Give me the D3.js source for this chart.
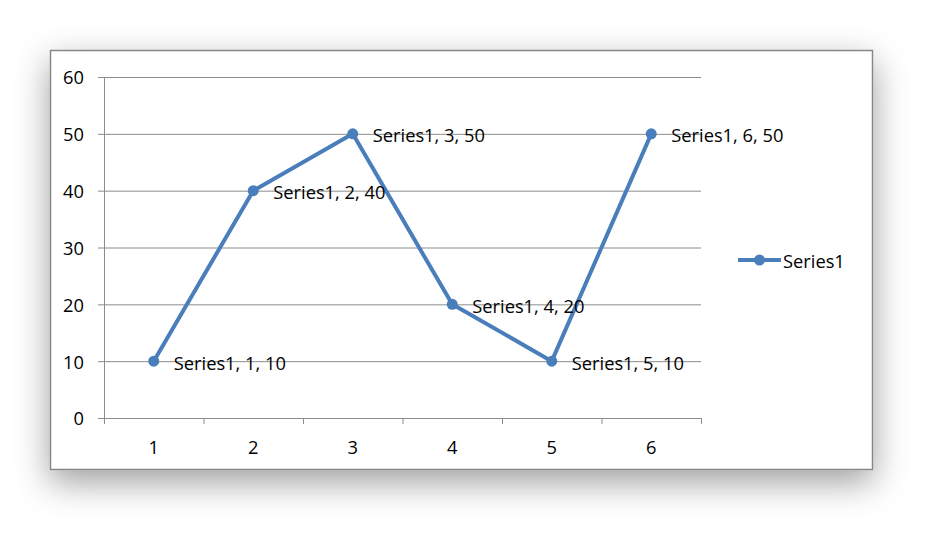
<!DOCTYPE html>
<html><head><meta charset="utf-8">
<script src="https://cdn.jsdelivr.net/npm/d3@7"></script>
<style>body{margin:0;background:#fff;}svg{display:block;font-family:"Open Sans",Lato,sans-serif;}</style>
</head><body>
<svg id="c" width="939" height="537"></svg>
<script>
const categories = ["1","2","3","4","5","6"];
const values = [10,40,50,20,10,50];
const seriesName = "Series1";
const yTicks = [0,10,20,30,40,50,60];

const svg = d3.select("#c");
const defs = svg.append("defs");
const f = defs.append("filter").attr("id","sh").attr("x","-20%").attr("y","-30%").attr("width","140%").attr("height","170%");
f.append("feDropShadow").attr("dx",0).attr("dy",12).attr("stdDeviation",17).attr("flood-color","#000").attr("flood-opacity",0.38);

svg.append("rect").attr("x",50.5).attr("y",50.5).attr("width",822).attr("height",419)
  .attr("fill","#fff").attr("stroke","#868686").attr("stroke-width",1.5).attr("filter","url(#sh)");

const L=104, R=701, T=77, B=418;
const fs = 18.3;
const x = d3.scaleBand().domain(categories).range([L,R]);
const y = d3.scaleLinear().domain([0,60]).range([B,T]);

svg.append("g").selectAll("line").data(yTicks).join("line")
  .attr("x1",L-6).attr("x2",R).attr("y1",d=>y(d)+0.5).attr("y2",d=>y(d)+0.5)
  .attr("stroke","#8c8c8c").attr("stroke-width",1);

svg.append("line").attr("x1",L+0.5).attr("x2",L+0.5).attr("y1",T).attr("y2",B)
  .attr("stroke","#8c8c8c");
svg.append("g").selectAll("text").data(yTicks).join("text")
  .attr("x",L-20).attr("y",d=>y(d)+1).attr("dy","0.35em").attr("text-anchor","end")
  .attr("font-size",fs).attr("fill","#000").text(d=>d);

const xt = categories.map((c,i)=>x(c)).concat([R]);
svg.append("g").selectAll("line").data(xt).join("line")
  .attr("x1",d=>d+0.5).attr("x2",d=>d+0.5).attr("y1",B).attr("y2",B+6)
  .attr("stroke","#8c8c8c");
svg.append("g").selectAll("text").data(categories).join("text")
  .attr("x",d=>x(d)+x.bandwidth()/2).attr("y",B+30).attr("dy","0.35em").attr("text-anchor","middle")
  .attr("font-size",fs).attr("fill","#000").text(d=>d);

const color="#4a7ebb";
const pts = categories.map((c,i)=>({c,v:values[i]}));
const line = d3.line().x(d=>x(d.c)+x.bandwidth()/2).y(d=>y(d.v));
svg.append("path").datum(pts).attr("d",line).attr("fill","none")
  .attr("stroke",color).attr("stroke-width",4).attr("stroke-linejoin","round");
svg.append("g").selectAll("circle").data(pts).join("circle")
  .attr("cx",d=>x(d.c)+x.bandwidth()/2).attr("cy",d=>y(d.v)).attr("r",5.5).attr("fill",color);
svg.append("g").selectAll("text").data(pts).join("text")
  .attr("x",d=>x(d.c)+x.bandwidth()/2+20).attr("y",d=>y(d.v)+2).attr("dy","0.35em")
  .attr("font-size",fs).attr("fill","#000").text(d=>`${seriesName}, ${d.c}, ${d.v}`);

const ly=260;
svg.append("line").attr("x1",738).attr("x2",781).attr("y1",ly).attr("y2",ly).attr("stroke",color).attr("stroke-width",4);
svg.append("circle").attr("cx",759.5).attr("cy",ly).attr("r",5.5).attr("fill",color);
svg.append("text").attr("x",783).attr("y",ly+2).attr("dy","0.35em").attr("font-size",fs).text(seriesName);
</script>
</body></html>
